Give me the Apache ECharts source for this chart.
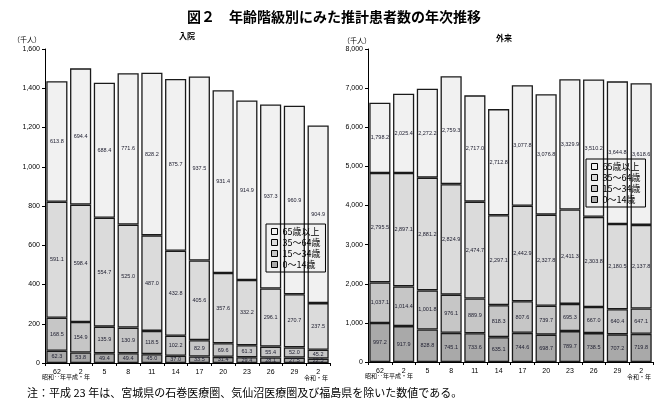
<!DOCTYPE html>
<html><head><meta charset="utf-8">
<script src="https://cdn.jsdelivr.net/npm/echarts@6/dist/echarts.min.js"></script>
<style>html,body{margin:0;padding:0;background:#fff}#c{width:668px;height:404px}</style>
</head><body><div id="c"></div>
<script>
const categories = ['62','2','5','8','11','14','17','20','23','26','29','2'];
const seriesNames = ['0～14歳','15～34歳','35～64歳','65歳以上'];
const legendOrder = ['65歳以上','35～64歳','15～34歳','0～14歳'];
// 入院 (inpatients, 千人)
const in0_14  = [62.3,53.8,49.4,49.4,45.0,37.0,33.5,31.4,29.4,28.1,27.5,22.5];
const in15_34 = [168.5,154.9,135.9,130.9,118.5,102.2,82.9,69.6,61.3,55.4,52.0,45.2];
const in35_64 = [591.1,598.4,554.7,525.0,487.0,432.8,405.6,357.6,332.2,296.1,270.7,237.5];
const in65    = [613.8,694.4,688.4,771.6,828.2,875.7,937.5,931.4,914.9,937.3,960.9,904.9];
// 外来 (outpatients, 千人)
const out0_14  = [997.2,917.9,828.8,745.1,733.6,635.1,744.6,698.7,789.7,738.5,707.2,719.8];
const out15_34 = [1037.1,1014.4,1001.8,976.1,889.9,818.3,807.6,739.7,695.3,667.0,640.4,647.1];
const out35_64 = [2795.5,2897.1,2881.2,2824.9,2474.7,2297.1,2442.9,2327.8,2411.3,2303.8,2180.5,2137.8];
const out65    = [1798.2,2025.4,2272.2,2759.3,2717.0,2712.8,3077.8,3076.8,3329.9,3510.2,3644.8,3618.6];
const leftTicks = [0,200,400,600,800,1000,1200,1400,1600];
const rightTicks = [0,1000,2000,3000,4000,5000,6000,7000,8000];

const colors = ['#a9a9a9','#c6c6c6','#dbdbdb','#f1f1f1'];
const FONT = '"Noto Sans CJK JP", "Noto Sans", sans-serif';
const fmt = v => Number(v).toLocaleString('en-US');
const fmt1 = v => Number(v).toLocaleString('en-US',{minimumFractionDigits:1,maximumFractionDigits:1});

function mkSeries(arrs, idx){
  return arrs.map((d,i)=>({
    name: seriesNames[i], type:'bar', stack:'s'+idx, xAxisIndex:idx, yAxisIndex:idx,
    data:d, barCategoryGap:'11%',
    itemStyle:{color:colors[i], borderColor:'#1a1a1a', borderWidth:1.3},
    label:{show:true, position:'inside', fontSize:5.5, color:'#223', fontFamily:'Arial',
      formatter:p=>fmt1(p.value)},
    emphasis:{disabled:true}
  }));
}
function xAxis(idx){
  return {type:'category', gridIndex:idx, data:categories, boundaryGap:true,
    axisLine:{lineStyle:{color:'#000',width:1}},
    axisTick:{show:true, alignWithLabel:false, length:3, lineStyle:{color:'#000'}},
    axisLabel:{fontSize:7, color:'#000', margin:6, fontFamily:'Arial', interval:0}};
}
function yAxis(idx, ticks){
  return {type:'value', gridIndex:idx, min:ticks[0], max:ticks[ticks.length-1], interval:ticks[1]-ticks[0],
    axisLine:{show:true, lineStyle:{color:'#000',width:1}},
    axisTick:{show:true, length:3, lineStyle:{color:'#000'}},
    splitLine:{show:false},
    axisLabel:{fontSize:7, color:'#000', margin:5, fontFamily:'Arial', formatter:fmt}};
}
function legend(left, top){
  return {orient:'vertical', left:left, top:top, data:legendOrder,
    borderColor:'#000', borderWidth:1, padding:[3,5,3,5], itemGap:2,
    itemWidth:6, itemHeight:6, icon:'rect',
    itemStyle:{borderColor:'#000', borderWidth:1},
    textStyle:{fontSize:9, color:'#000', fontFamily:FONT, padding:0}};
}
const chart = echarts.init(document.getElementById('c'), null, {renderer:'canvas'});
chart.setOption({
  animation:false,
  backgroundColor:'#fff',
  title:[
    {text:'図２　年齢階級別にみた推計患者数の年次推移', left:'center', top:5,
      textStyle:{fontSize:14, fontWeight:'bold', color:'#000', fontFamily:FONT}},
    {text:'入院', left:174, top:27, textStyle:{fontSize:8, fontWeight:'bold', color:'#000', fontFamily:FONT}},
    {text:'外来', left:491, top:29, textStyle:{fontSize:8, fontWeight:'bold', color:'#000', fontFamily:FONT}}
  ],
  grid:[
    {left:45, top:49, width:285, height:314, containLabel:false},
    {left:368, top:49, width:285, height:313, containLabel:false}
  ],
  xAxis:[xAxis(0), xAxis(1)],
  yAxis:[yAxis(0,leftTicks), yAxis(1,rightTicks)],
  legend:[legend(266,224), legend(586,159)],
  series:[...mkSeries([in0_14,in15_34,in35_64,in65],0), ...mkSeries([out0_14,out15_34,out35_64,out65],1)],
  graphic:[
    {type:'text', left:13, top:36, style:{text:'（千人）', fontSize:7, fill:'#000', fontFamily:FONT}},
    {type:'text', left:343, top:37, style:{text:'（千人）', fontSize:7, fill:'#000', fontFamily:FONT}},
    {type:'text', left:42, top:374, style:{text:'昭和‥年平成・年', fontSize:6, fill:'#000', fontFamily:FONT}},
    {type:'text', left:365, top:373, style:{text:'昭和‥年平成・年', fontSize:6, fill:'#000', fontFamily:FONT}},
    {type:'text', left:304, top:375, style:{text:'令和・年', fontSize:6, fill:'#000', fontFamily:FONT}},
    {type:'text', left:627, top:374, style:{text:'令和・年', fontSize:6, fill:'#000', fontFamily:FONT}},
    {type:'text', left:27, top:387, style:{text:'注：平成 23 年は、宮城県の石巻医療圏、気仙沼医療圏及び福島県を除いた数値である。', fontSize:11, fill:'#000', fontFamily:FONT}}
  ]
});
</script></body></html>
